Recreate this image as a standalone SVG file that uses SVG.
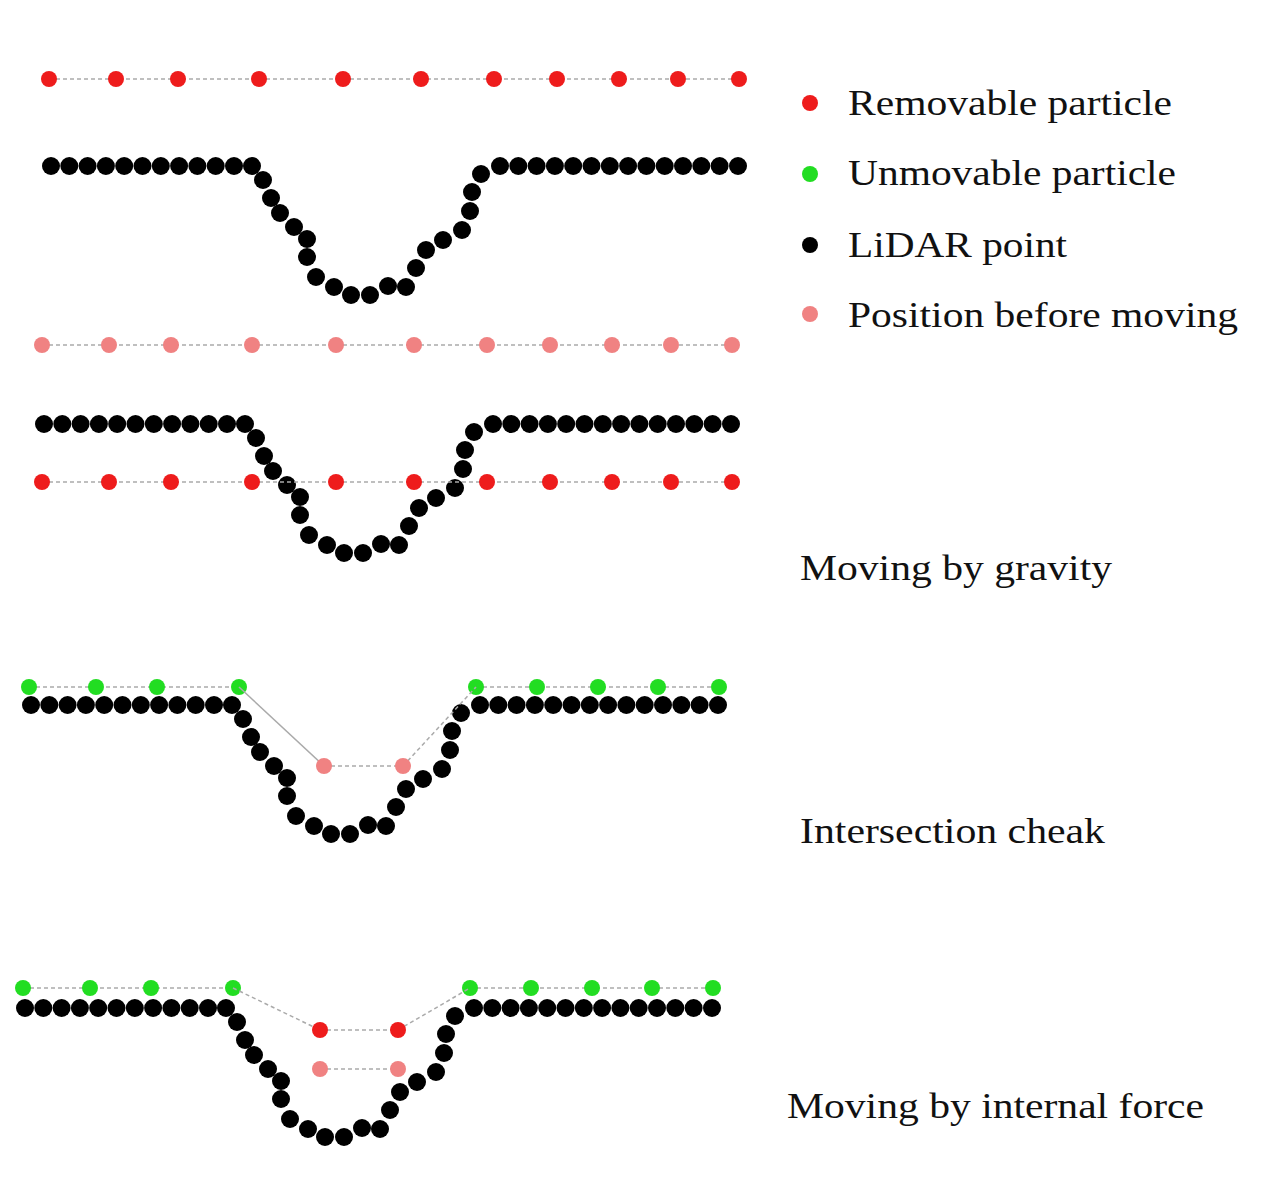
<svg xmlns="http://www.w3.org/2000/svg" xmlns:xlink="http://www.w3.org/1999/xlink" width="1279" height="1198" viewBox="0 0 1279 1198">
<style>
.k{fill:#000}.r{fill:#ee1c1c}.g{fill:#22dd22}.p{fill:#f08282}
.d{stroke:#aaa;stroke-width:1.5;stroke-dasharray:4 3;fill:none}
.s{stroke:#aaa;stroke-width:1.5;fill:none}
text{font-family:"Liberation Serif",serif;font-size:35px;fill:#111}
</style>
<defs>
<g id="ground" class="k">
<circle cx="51" cy="166" r="9"/><circle cx="69.3" cy="166" r="9"/><circle cx="87.6" cy="166" r="9"/><circle cx="105.9" cy="166" r="9"/><circle cx="124.2" cy="166" r="9"/><circle cx="142.5" cy="166" r="9"/><circle cx="160.8" cy="166" r="9"/><circle cx="179.1" cy="166" r="9"/><circle cx="197.4" cy="166" r="9"/><circle cx="215.7" cy="166" r="9"/><circle cx="234" cy="166" r="9"/><circle cx="252" cy="166" r="9"/>
<circle cx="263" cy="180" r="9"/><circle cx="271" cy="198" r="9"/><circle cx="280" cy="213" r="9"/><circle cx="294" cy="227" r="9"/><circle cx="307" cy="239" r="9"/><circle cx="307" cy="257" r="9"/><circle cx="316" cy="277" r="9"/><circle cx="334" cy="287" r="9"/><circle cx="351" cy="295" r="9"/><circle cx="370" cy="295" r="9"/><circle cx="388" cy="286" r="9"/><circle cx="406" cy="287" r="9"/><circle cx="416" cy="268" r="9"/><circle cx="426" cy="250" r="9"/><circle cx="443" cy="240" r="9"/><circle cx="462" cy="230" r="9"/><circle cx="470" cy="211" r="9"/><circle cx="472" cy="192" r="9"/><circle cx="481" cy="174" r="9"/>
<circle cx="500" cy="166" r="9"/><circle cx="518.3" cy="166" r="9"/><circle cx="536.6" cy="166" r="9"/><circle cx="554.9" cy="166" r="9"/><circle cx="573.2" cy="166" r="9"/><circle cx="591.5" cy="166" r="9"/><circle cx="609.8" cy="166" r="9"/><circle cx="628.1" cy="166" r="9"/><circle cx="646.4" cy="166" r="9"/><circle cx="664.7" cy="166" r="9"/><circle cx="683" cy="166" r="9"/><circle cx="701.3" cy="166" r="9"/><circle cx="719.6" cy="166" r="9"/><circle cx="738" cy="166" r="9"/>
</g>
<g id="row">
<line x1="49" y1="0" x2="739" y2="0" class="d"/>
<circle cx="49" cy="0" r="8"/><circle cx="116" cy="0" r="8"/><circle cx="178" cy="0" r="8"/><circle cx="259" cy="0" r="8"/><circle cx="343" cy="0" r="8"/><circle cx="421" cy="0" r="8"/><circle cx="494" cy="0" r="8"/><circle cx="557" cy="0" r="8"/><circle cx="619" cy="0" r="8"/><circle cx="678" cy="0" r="8"/><circle cx="739" cy="0" r="8"/>
</g>
<g id="greens" class="g">
<line x1="29" y1="0" x2="239" y2="0" class="d"/><line x1="476" y1="0" x2="719" y2="0" class="d"/>
<circle cx="29" cy="0" r="8"/><circle cx="96" cy="0" r="8"/><circle cx="157" cy="0" r="8"/><circle cx="239" cy="0" r="8"/><circle cx="476" cy="0" r="8"/><circle cx="537" cy="0" r="8"/><circle cx="598" cy="0" r="8"/><circle cx="658" cy="0" r="8"/><circle cx="719" cy="0" r="8"/>
</g>
</defs>
<g id="panel1">
<use xlink:href="#row" class="r" transform="translate(0,79)"/>
<use xlink:href="#ground"/>
<use xlink:href="#row" class="p" transform="translate(-7,345)"/>
</g>
<g id="panel2">
<use xlink:href="#ground" transform="translate(-7,258)"/>
<use xlink:href="#row" class="r" transform="translate(-7,482)"/>
</g>
<g id="panel3">
<use xlink:href="#ground" transform="translate(-20,539)"/>
<use xlink:href="#greens" transform="translate(0,687)"/>
<g id="connectors3">
<line x1="239" y1="687" x2="324" y2="766" class="s"/><line x1="324" y1="766" x2="403" y2="766" class="d"/><line x1="403" y1="766" x2="476" y2="687" class="d"/>
</g>
<circle cx="324" cy="766" r="8" class="p"/><circle cx="403" cy="766" r="8" class="p"/>
</g>
<g id="panel4">
<use xlink:href="#ground" transform="translate(-26,842)"/>
<use xlink:href="#greens" transform="translate(-6,988)"/>
<g id="connectors4">
<line x1="233" y1="988" x2="320" y2="1030" class="d"/><line x1="320" y1="1030" x2="398" y2="1030" class="d"/><line x1="398" y1="1030" x2="470" y2="988" class="d"/><line x1="320" y1="1069" x2="398" y2="1069" class="d"/>
</g>
<circle cx="320" cy="1030" r="8" class="r"/><circle cx="398" cy="1030" r="8" class="r"/>
<circle cx="320" cy="1069" r="8" class="p"/><circle cx="398" cy="1069" r="8" class="p"/>
</g>
<g id="legend">
<circle cx="810" cy="103" r="8" class="r"/><text x="848" y="115" textLength="324" lengthAdjust="spacingAndGlyphs">Removable particle</text>
<circle cx="810" cy="174" r="8" class="g"/><text x="848" y="185" textLength="328" lengthAdjust="spacingAndGlyphs">Unmovable particle</text>
<circle cx="810" cy="245" r="8" class="k"/><text x="848" y="257" textLength="219" lengthAdjust="spacingAndGlyphs">LiDAR point</text>
<circle cx="810" cy="314" r="8" class="p"/><text x="848" y="327" textLength="390" lengthAdjust="spacingAndGlyphs">Position before moving</text>
</g>
<text x="800" y="580" textLength="312" lengthAdjust="spacingAndGlyphs">Moving by gravity</text>
<text x="800" y="843" textLength="305" lengthAdjust="spacingAndGlyphs">Intersection cheak</text>
<text x="787" y="1118" textLength="417" lengthAdjust="spacingAndGlyphs">Moving by internal force</text>
</svg>
